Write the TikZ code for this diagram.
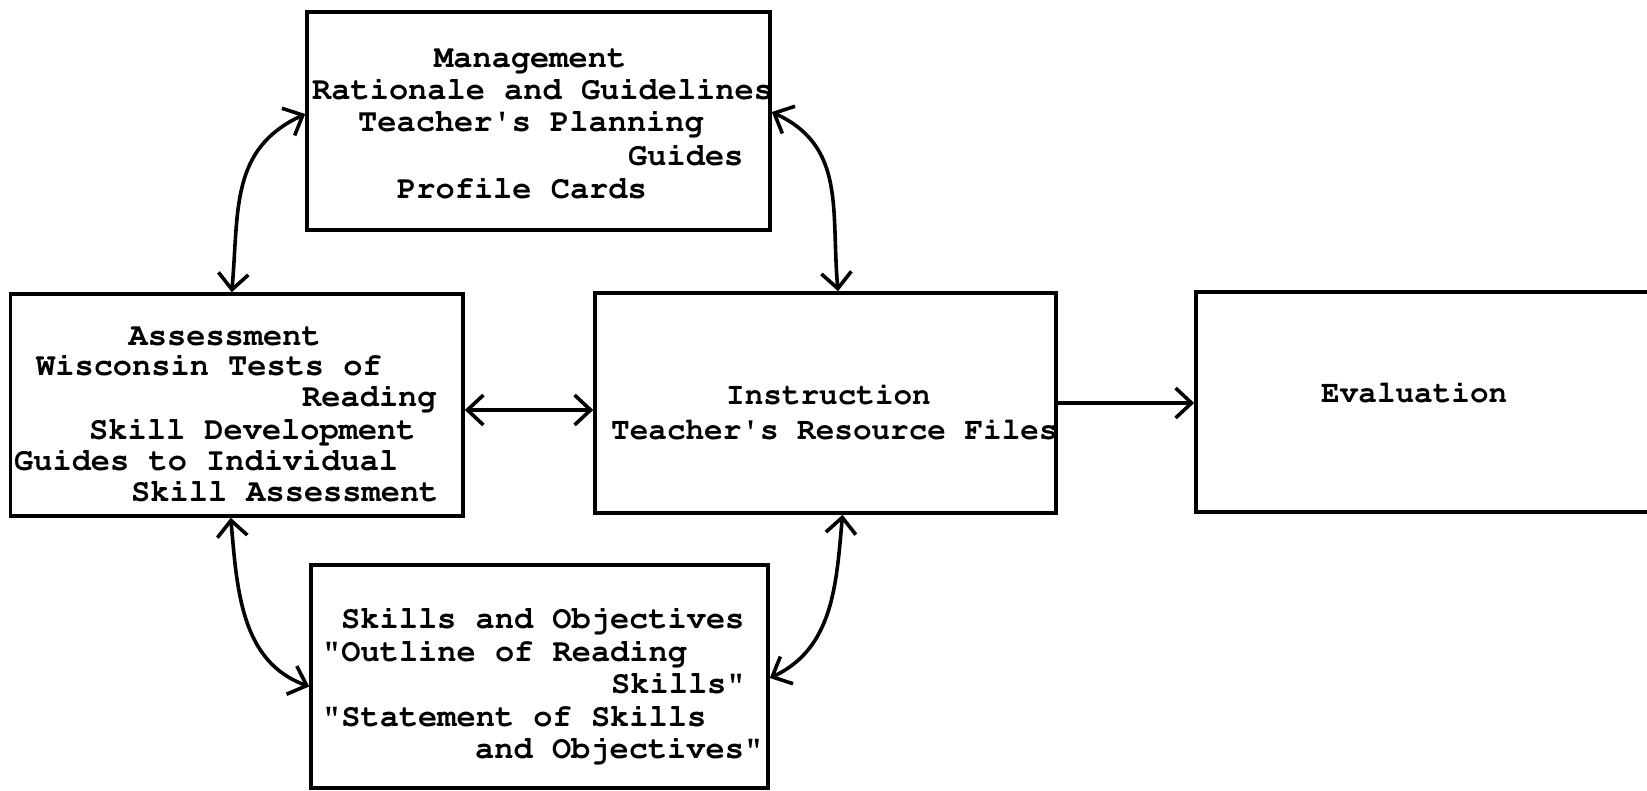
\documentclass[tikz,border=0pt]{standalone}
\usepackage[T1]{fontenc}
\usepackage{courier}
\usetikzlibrary{arrows.meta}
\tikzset{
  box/.style={draw, line width=3.6pt, inner sep=0pt, anchor=center},
  txt/.style={anchor=base west, inner sep=0pt, font=\fontsize{32}{32}\selectfont\ttfamily\bfseries},
  txtb/.style={anchor=base west, inner sep=0pt, font=\fontsize{31}{31}\selectfont\ttfamily\bfseries},
  conn/.style={line width=3.6pt, {Straight Barb[length=16pt,width=30pt]}-{Straight Barb[length=16pt,width=30pt]}},
  conn1/.style={line width=3.6pt, -{Straight Barb[length=16pt,width=30pt]}}
}
\begin{document}
\begin{tikzpicture}[x=1pt,y=1pt]
\useasboundingbox (0,0) rectangle (1647,-791);
\clip (0,0) rectangle (1647,-791);
\fill[white] (0,0) rectangle (1647,-791);
% boxes
\node[box, minimum width=463pt, minimum height=218pt] (mgmt) at (538.5,-121) {};
\node[box, minimum width=452.5pt, minimum height=222pt] (assess) at (236.75,-405) {};
\node[box, minimum width=461pt, minimum height=220pt] (instr) at (825.5,-403) {};
\node[box, minimum width=504pt, minimum height=220pt] (eval) at (1448,-402) {};
\node[box, minimum width=457pt, minimum height=223pt] (skills) at (539.5,-676.5) {};
% management text
\node[txt] (m1) at (434,-68) {Management};
\node[txt] (m2) at (312,-100) {Rationale and Guidelines};
\node[txt] (m3) at (358,-132) {Teacher\textquotesingle s Planning};
\node[txt] (m4) at (628,-166) {Guides};
\node[txt] (m5) at (397,-199) {Profile Cards};
% assessment text
\node[txt] (a1) at (128.5,-346) {Assessment};
\node[txt] (a2) at (36,-376) {Wisconsin Tests of};
\node[txt] (a3) at (302,-407) {Reading};
\node[txt] (a4) at (89,-439) {Skill Development};
\node[txt] (a5) at (14,-471) {Guides to Individual};
\node[txt] (a6) at (131,-501) {Skill Assessment};
% skills text
\node[txt] (s1) at (341,-628) {Skills and Objectives};
\node[txt] (s2) at (322,-661) {\textquotedbl Outline of Reading};
\node[txt] (s3) at (611,-693) {Skills\textquotedbl};
\node[txt] (s4) at (322,-726) {\textquotedbl Statement of Skills};
\node[txt] (s5) at (475,-758) {and Objectives\textquotedbl};
% instruction text
\node[txtb] (i1) at (726,-405) {Instruction};
\node[txtb] (i2) at (611,-440) {Teacher\textquotesingle s Resource Files};
% evaluation text
\node[txtb] (e1) at (1321,-403) {Evaluation};
% connectors
\draw[conn] ([yshift=7pt]mgmt.west) to[out=205,in=85,looseness=1.1] ([xshift=-5pt]assess.north);
\draw[conn] ([yshift=9pt]mgmt.east) to[out=-25,in=95,looseness=1.1] ([xshift=12.5pt]instr.north);
\draw[conn] ([xshift=-6pt]assess.south) to[out=-85,in=160] ([yshift=-10pt]skills.west);
\draw[conn] ([xshift=17pt]instr.south) to[out=-95,in=25] ([yshift=-1.5pt]skills.east);
\draw[conn] ([yshift=-5pt]assess.east) -- ([yshift=-7pt]instr.west);
\draw[conn1] (instr.east) -- (instr.east -| eval.west);
\end{tikzpicture}
\end{document}
